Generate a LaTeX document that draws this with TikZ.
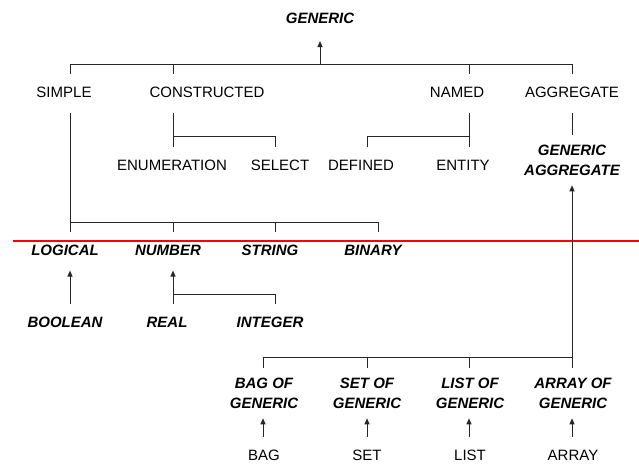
\documentclass[tikz,border=0pt]{standalone}
\usepackage{fontspec}
\setmainfont{Liberation Sans}
\usetikzlibrary{arrows.meta}

\tikzset{
  type/.style={font=\fontsize{15}{19.5}\selectfont, inner xsep=2pt, inner ysep=12pt, text height=10.7pt, text depth=3pt},
  gentype/.style={type, font=\fontsize{15}{19.5}\selectfont\bfseries\itshape},
  pair/.style={align=center, inner ysep=10pt, text height=30.2pt, text depth=0pt},
  link/.style={draw=black!85, line width=1pt},
  isa/.style={link, -{Triangle[length=6pt,width=5pt]}},
}

\begin{document}
\begin{tikzpicture}[x=1pt, y=-1pt]
      \useasboundingbox (0,0) rectangle (639,463);
      % top level
      \node[gentype] (generic) at (320,20) {GENERIC};
      \node[type] (simple) at (64,93.5) {SIMPLE};
      \node[type] (constructed) at (207,93.5) {CONSTRUCTED};
      \node[type] (named) at (457,93.5) {NAMED};
      \node[type] (aggregate) at (572,93.5) {AGGREGATE};
      % second level
      \node[type] (enumeration) at (172,166.5) {ENUMERATION};
      \node[type] (select) at (280,166.5) {SELECT};
      \node[type] (defined) at (361,166.5) {DEFINED};
      \node[type] (entity) at (463,166.5) {ENTITY};
      \node[gentype, pair] (genaggr) at (572,160) {GENERIC\\AGGREGATE};
      % base types
      \node[gentype] (logical) at (65,251.5) {LOGICAL};
      \node[gentype] (number) at (168,251.5) {NUMBER};
      \node[gentype] (string) at (270,251.5) {STRING};
      \node[gentype] (binary) at (373,251.5) {BINARY};
      \node[gentype] (boolean) at (65,323.5) {BOOLEAN};
      \node[gentype] (real) at (167,323.5) {REAL};
      \node[gentype] (integer) at (270,323.5) {INTEGER};
      % aggregates
      \node[gentype, pair] (bagof) at (264,393) {BAG OF\\GENERIC};
      \node[gentype, pair] (setof) at (367,393) {SET OF\\GENERIC};
      \node[gentype, pair] (listof) at (470,393) {LIST OF\\GENERIC};
      \node[gentype, pair] (arrayof) at (573,393) {ARRAY OF\\GENERIC};
      \node[type] (bag) at (264,456.5) {BAG};
      \node[type] (set) at (367,456.5) {SET};
      \node[type] (list) at (470,456.5) {LIST};
      \node[type] (array) at (573,456.5) {ARRAY};

      % junctions
      \coordinate (top-l) at (70,64);
      \coordinate (top-c) at (173,64);
      \coordinate (top-m) at (320,64);
      \coordinate (top-n) at (469,64);
      \coordinate (top-r) at (572,64);
      \coordinate (con-l) at (173,136);
      \coordinate (con-r) at (275,136);
      \coordinate (def-l) at (367,136);
      \coordinate (def-r) at (469,136);
      \coordinate (base-l) at (70,222);
      \coordinate (base-n) at (173,222);
      \coordinate (base-s) at (275,222);
      \coordinate (base-r) at (378,222);
      \coordinate (num-l) at (173,294);
      \coordinate (num-r) at (275,294);
      \coordinate (agg-bag) at (263,357);
      \coordinate (agg-set) at (367,357);
      \coordinate (agg-list) at (469,357);
      \coordinate (agg-arr) at (572,357);

      % top bar
      \draw[link] (simple.north -| top-l) -- (top-l) -- (top-r) -- (aggregate.north -| top-r);
      \draw[link] (top-c) -- (constructed.north -| top-c);
      \draw[link] (top-n) -- (named.north -| top-n);
      \draw[isa, shorten >=2pt] (top-m) -- (generic);
      % constructed, named, aggregate
      \draw[link] (constructed.south -| top-c) -- (enumeration.north -| top-c);
      \draw[link] (con-l) -- (con-r) -- (select.north -| con-r);
      \draw[link] (named.south -| top-n) -- (entity.north -| top-n);
      \draw[link] (def-r) -- (def-l) -- (defined.north -| def-l);
      \draw[link] (aggregate) -- (genaggr);
      % simple types
      \draw[link] (simple.south -| base-l) -- (logical.north -| base-l);
      \draw[link] (base-l) -- (base-r) -- (binary.north -| base-r);
      \draw[link] (base-n) -- (number.north -| base-n);
      \draw[link] (base-s) -- (string.north -| base-s);
      \draw[red, line width=2pt] (13,241) -- (639,241);
      \draw[isa] (boolean.north -| base-l) -- (logical.south -| base-l);
      \draw[isa] (real.north -| num-l) -- (number.south -| num-l);
      \draw[link] (num-l) -- (num-r) -- (integer.north -| num-r);
      % aggregation types
      \draw[isa] (arrayof.north -| agg-arr) -- (genaggr.south -| agg-arr);
      \draw[link] (bagof.north -| agg-bag) -- (agg-bag) -- (agg-arr);
      \draw[link] (agg-set) -- (setof.north -| agg-set);
      \draw[link] (agg-list) -- (listof.north -| agg-list);
      \draw[isa] (bag.north -| agg-bag) -- (bagof.south -| agg-bag);
      \draw[isa] (set.north -| agg-set) -- (setof.south -| agg-set);
      \draw[isa] (list.north -| agg-list) -- (listof.south -| agg-list);
      \draw[isa] (array.north -| agg-arr) -- (arrayof.south -| agg-arr);
    \end{tikzpicture}
\end{document}
